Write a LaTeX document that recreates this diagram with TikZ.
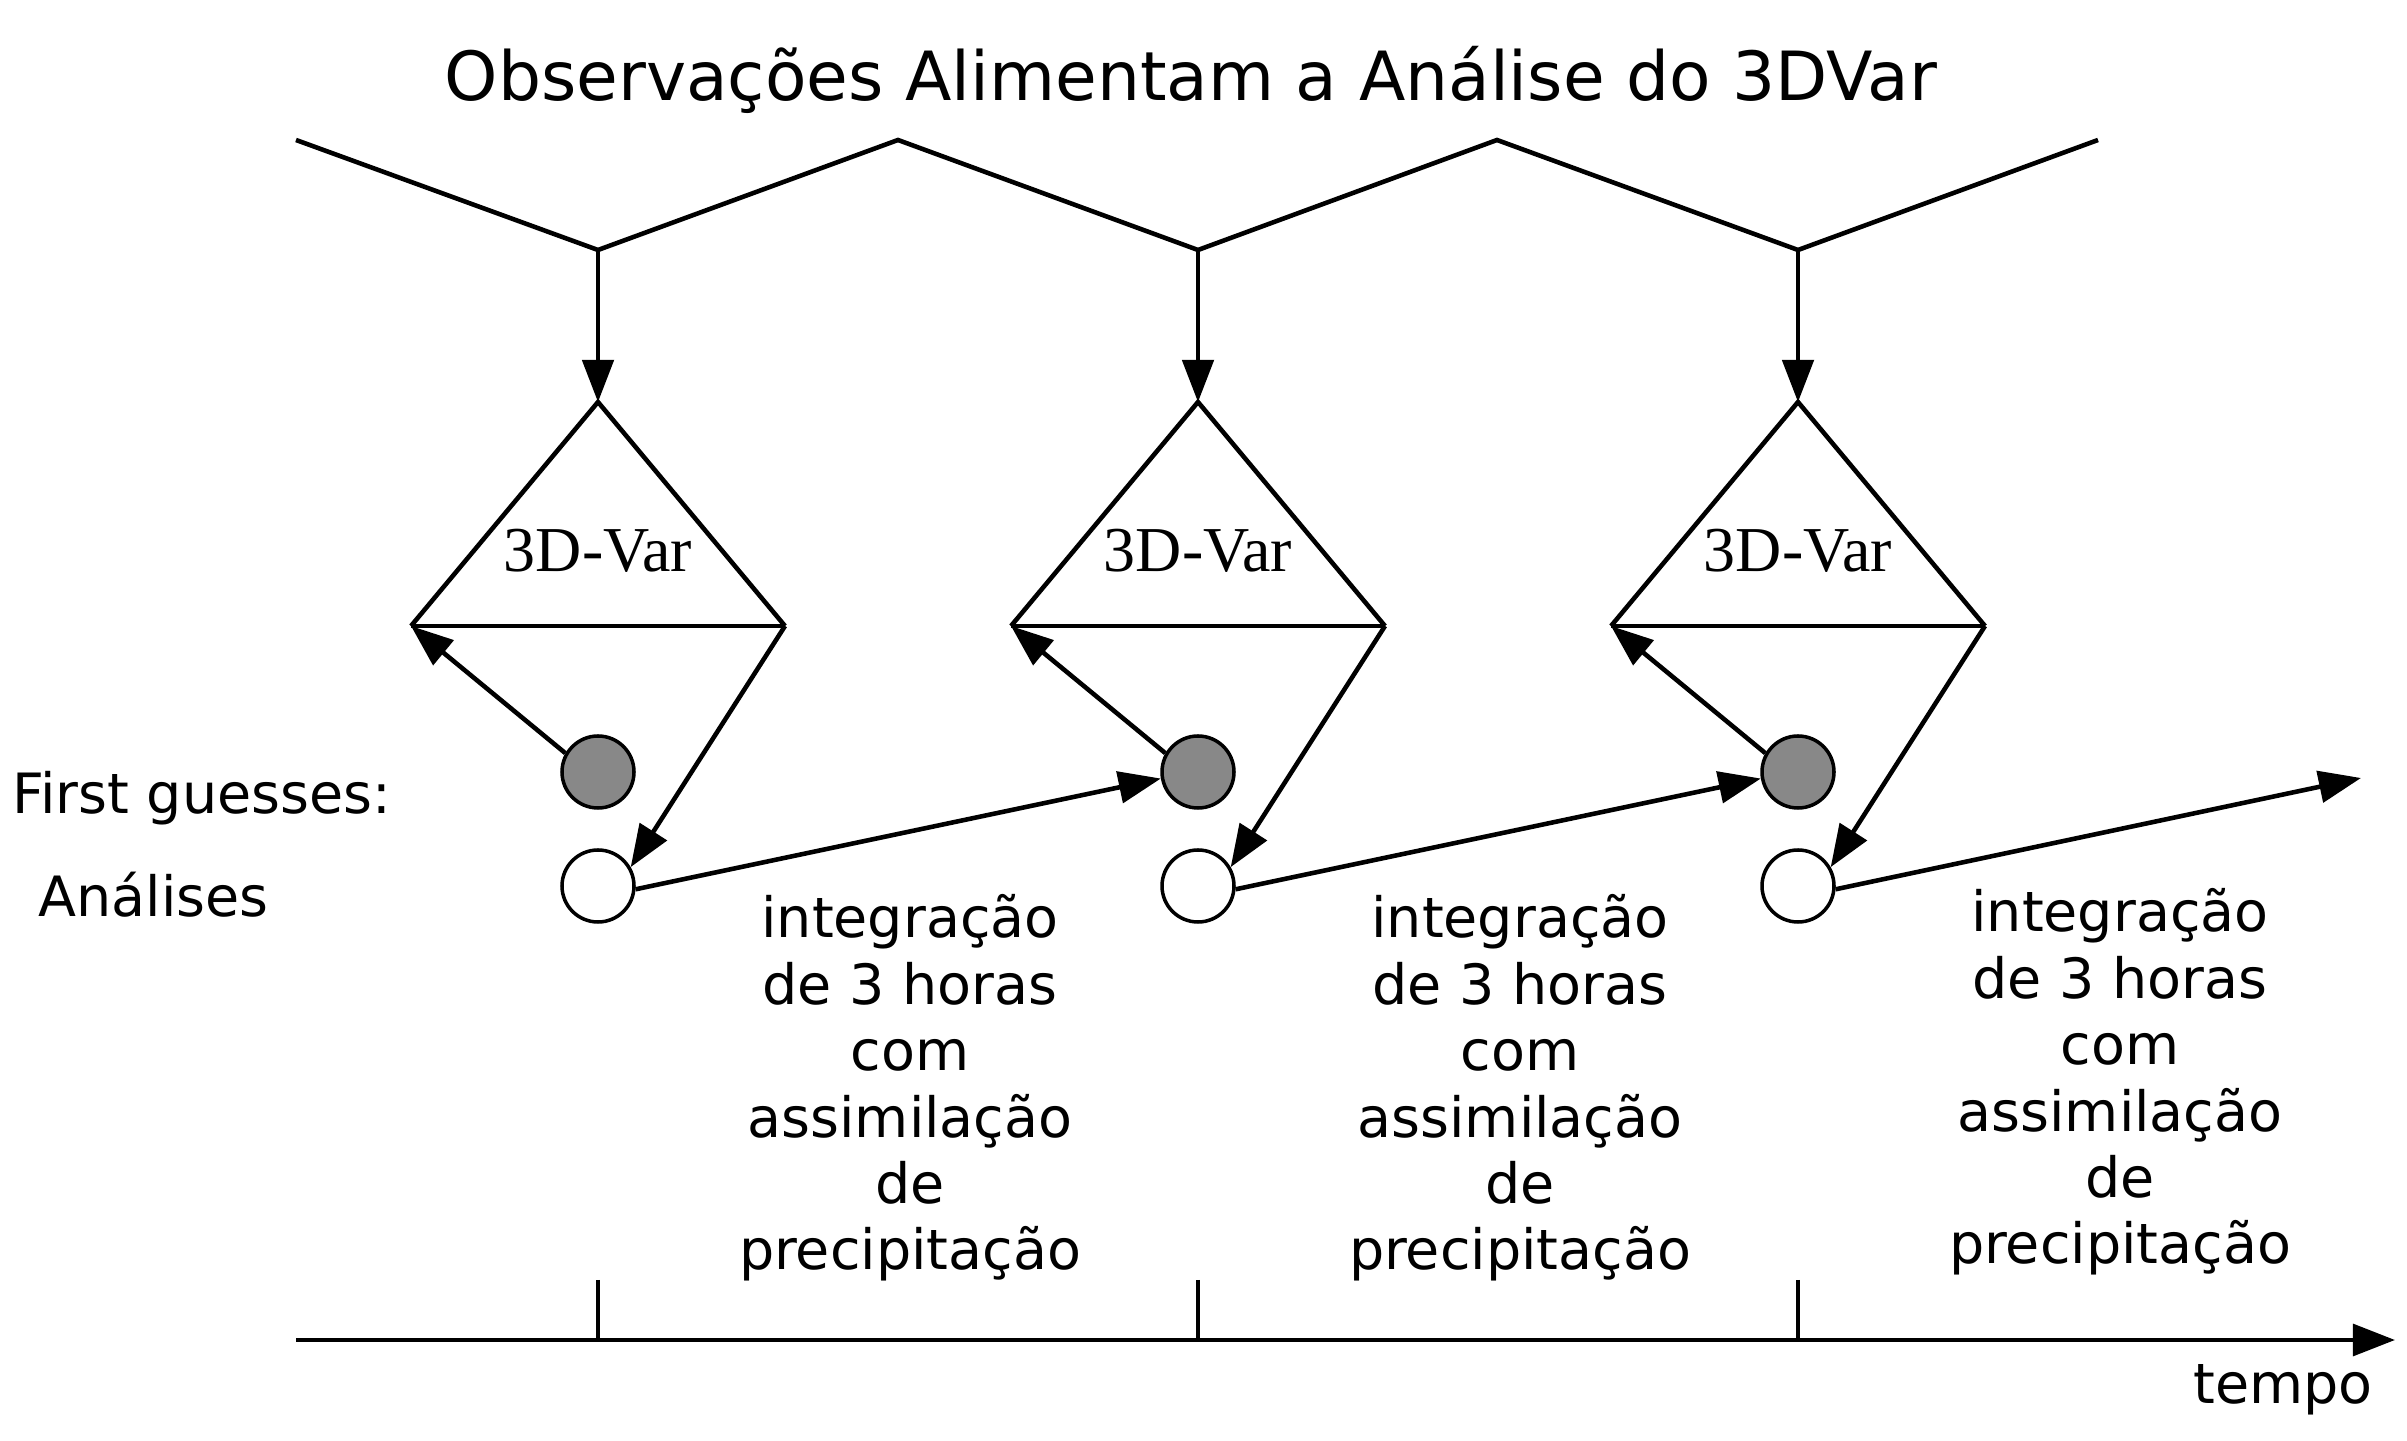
\documentclass[tikz,border=0pt]{standalone}
\usepackage{fontspec}
\setsansfont{DejaVu Sans}
\newfontfamily\varfont{Liberation Serif}
\usetikzlibrary{arrows.meta}
\definecolor{guessgray}{RGB}{136,136,136}

\begin{document}
\begin{tikzpicture}[font = \sffamily\fontsize{15.8}{18.9}\selectfont,
    thickline/.style = {line width = 1.3pt},
    thinline/.style = {line width = 0.9pt},
    arr/.style = {-{Triangle[length = 12pt, width = 9pt]}},
    guess/.style = {shape = circle, draw, fill = guessgray, line width = 1pt, minimum size = 0.72cm, inner sep = 0pt},
    analysis/.style = {shape = circle, draw, fill = white, line width = 1pt, minimum size = 0.72cm, inner sep = 0pt},
    varlabel/.style = {anchor = base, font = \varfont\fontsize{18.2}{21}\selectfont},
    stepnote/.style = {align = center}]
    \useasboundingbox (0,0) rectangle (24.07,14.4);
    \node[anchor = base, font = \sffamily\fontsize{19.3}{23}\selectfont] (title) at (11.91,13.39) {Observações Alimentam a Análise do 3DVar};
    % observations
    \coordinate (z0) at (2.96,13.0);
    \coordinate (z1) at (5.98,11.9);
    \coordinate (z2) at (8.98,13.0);
    \coordinate (z3) at (11.98,11.9);
    \coordinate (z4) at (14.97,13.0);
    \coordinate (z5) at (17.98,11.9);
    \coordinate (z6) at (20.98,13.0);
    \draw[thickline] (z0) -- (z1) -- (z2) -- (z3) -- (z4) -- (z5) -- (z6);
    % 3D-Var triangles
    \coordinate (T1) at (5.98,10.38);
    \coordinate (L1) at (4.11,8.14);
    \coordinate (R1) at (7.85,8.14);
    \coordinate (T2) at (11.98,10.38);
    \coordinate (L2) at (10.11,8.14);
    \coordinate (R2) at (13.85,8.14);
    \coordinate (T3) at (17.98,10.38);
    \coordinate (L3) at (16.11,8.14);
    \coordinate (R3) at (19.85,8.14);
    \draw[thickline] (L1) -- (T1) -- (R1);
    \draw[thickline] (L2) -- (T2) -- (R2);
    \draw[thickline] (L3) -- (T3) -- (R3);
    \draw[thinline] (L1) -- (R1);
    \draw[thinline] (L2) -- (R2);
    \draw[thinline] (L3) -- (R3);
    \draw[thinline, arr] (z1) -- (T1);
    \draw[thinline, arr] (z3) -- (T2);
    \draw[thinline, arr] (z5) -- (T3);
    \node[varlabel] (V1) at (5.98,8.68) {3D-Var};
    \node[varlabel] (V2) at (11.98,8.68) {3D-Var};
    \node[varlabel] (V3) at (17.98,8.68) {3D-Var};
    % first guesses and analyses
    \node[anchor = west] (FG) at (0.0,6.42) {First guesses:};
    \node[anchor = west] (AN) at (0.26,5.45) {Análises};
    \node[guess] (g1) at (5.98,6.68) {};
    \node[guess] (g2) at (11.98,6.68) {};
    \node[guess] (g3) at (17.98,6.68) {};
    \node[analysis] (a1) at (5.98,5.54) {};
    \node[analysis] (a2) at (11.98,5.54) {};
    \node[analysis] (a3) at (17.98,5.54) {};
    \coordinate (fim) at (23.61,6.62);
    \draw[thickline, arr] (g1.150) -- (L1);
    \draw[thickline, arr] (g2.150) -- (L2);
    \draw[thickline, arr] (g3.150) -- (L3);
    \draw[thickline, arr] (R1) -- (a1.30);
    \draw[thickline, arr] (R2) -- (a2.30);
    \draw[thickline, arr] (R3) -- (a3.30);
    \draw[thickline, arr] (a1.355) -- (g2.190);
    \draw[thickline, arr] (a2.355) -- (g3.190);
    \draw[thickline, arr] (a3.355) -- (fim);
    \node[stepnote] (N1) at (9.10,3.52) {integração\\de 3 horas\\com\\assimilação\\de\\precipitação};
    \node[stepnote] (N2) at (15.20,3.52) {integração\\de 3 horas\\com\\assimilação\\de\\precipitação};
    \node[stepnote] (N3) at (21.20,3.58) {integração\\de 3 horas\\com\\assimilação\\de\\precipitação};
    % time axis
    \coordinate (t0) at (2.96,1.0);
    \coordinate (t1) at (23.95,1.0);
    \coordinate (k1) at (5.98,1.6);
    \coordinate (k2) at (11.98,1.6);
    \coordinate (k3) at (17.98,1.6);
    \draw[thickline, arr] (t0) -- (t1);
    \draw[thinline] (k1) -- (k1 |- t0);
    \draw[thinline] (k2) -- (k2 |- t0);
    \draw[thinline] (k3) -- (k3 |- t0);
    \node[anchor = east] (tempo) at (23.85,0.50) {tempo};
\end{tikzpicture}
\end{document}
